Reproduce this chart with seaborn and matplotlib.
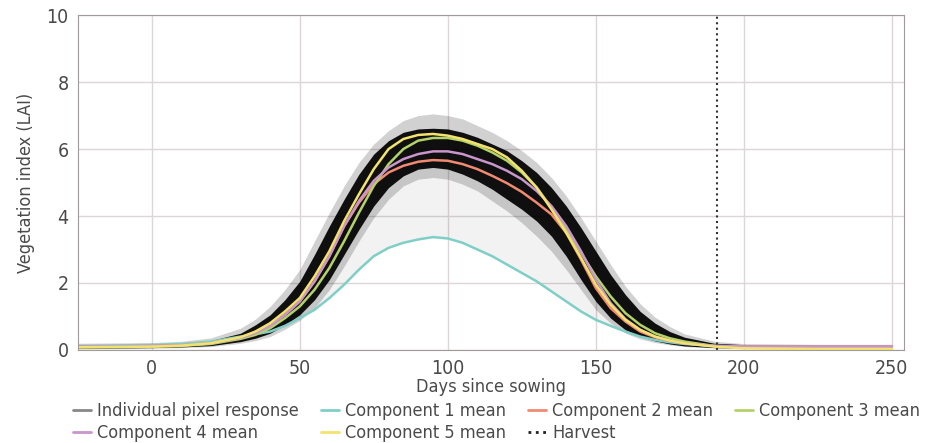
import numpy as np
import pandas as pd
import seaborn as sns
import matplotlib.pyplot as plt
from matplotlib.lines import Line2D

# days since sowing (shared x grid for all read-off curves)
days = [-25, 0, 10, 20, 30, 35, 40, 45, 50, 55, 60, 65, 70, 75, 80, 85, 90, 95,
        100, 105, 110, 115, 120, 125, 130, 135, 140, 145, 150, 155, 160, 165,
        170, 175, 180, 190, 200, 225, 250]

comp1 = [0.12, 0.15, 0.18, 0.25, 0.4, 0.47, 0.55, 0.72, 0.95, 1.2, 1.55, 1.95, 2.4,
         2.8, 3.05, 3.2, 3.3, 3.37, 3.33, 3.2, 3.0, 2.8, 2.55, 2.3, 2.05, 1.75, 1.45,
         1.15, 0.9, 0.72, 0.55, 0.4, 0.3, 0.23, 0.18, 0.12, 0.1, 0.1, 0.1]
comp2 = [0.1, 0.12, 0.14, 0.2, 0.36, 0.5, 0.72, 1.05, 1.45, 2.05, 2.8, 3.7, 4.4,
         4.95, 5.3, 5.5, 5.62, 5.67, 5.65, 5.55, 5.4, 5.2, 4.98, 4.72, 4.4, 4.05, 3.5,
         2.7, 1.85, 1.25, 0.85, 0.55, 0.38, 0.27, 0.2, 0.12, 0.1, 0.1, 0.1]
comp3 = [0.08, 0.1, 0.12, 0.18, 0.33, 0.45, 0.65, 0.95, 1.3, 1.8, 2.45, 3.25, 4.1,
         4.9, 5.55, 6.0, 6.25, 6.33, 6.33, 6.25, 6.1, 5.9, 5.65, 5.3, 4.85, 4.25, 3.6,
         2.9, 2.2, 1.6, 1.1, 0.75, 0.5, 0.35, 0.25, 0.12, 0.07, 0.05, 0.05]
comp4 = [0.1, 0.12, 0.14, 0.2, 0.36, 0.5, 0.72, 1.05, 1.45, 2.05, 2.8, 3.7, 4.45,
         5.05, 5.45, 5.7, 5.85, 5.93, 5.93, 5.85, 5.7, 5.55, 5.35, 5.1, 4.75, 4.3, 3.7,
         2.95, 2.1, 1.4, 0.92, 0.6, 0.4, 0.28, 0.2, 0.12, 0.1, 0.1, 0.1]
comp5 = [0.08, 0.1, 0.13, 0.2, 0.38, 0.55, 0.8, 1.15, 1.55, 2.2, 2.95, 3.85, 4.65,
         5.4, 6.0, 6.3, 6.42, 6.45, 6.4, 6.3, 6.15, 6.0, 5.75, 5.35, 4.85, 4.2, 3.5,
         2.75, 1.95, 1.35, 0.9, 0.6, 0.4, 0.28, 0.2, 0.1, 0.05, 0.03, 0.03]

# envelopes of the individual pixel responses (dense core and faint fringe)
core_hi = [0.15, 0.18, 0.2, 0.28, 0.5, 0.75, 1.05, 1.5, 2.05, 2.85, 3.7, 4.5, 5.25,
           5.85, 6.25, 6.5, 6.6, 6.62, 6.6, 6.5, 6.35, 6.15, 5.95, 5.65, 5.3, 4.85,
           4.3, 3.65, 2.95, 2.25, 1.65, 1.15, 0.8, 0.55, 0.38, 0.2, 0.16, 0.15, 0.15]
core_lo = [0.05, 0.07, 0.09, 0.13, 0.25, 0.35, 0.5, 0.75, 1.05, 1.5, 2.1, 2.85, 3.6,
           4.3, 4.85, 5.2, 5.4, 5.45, 5.4, 5.25, 5.05, 4.8, 4.5, 4.2, 3.85, 3.4, 2.8,
           2.1, 1.45, 0.95, 0.6, 0.4, 0.27, 0.18, 0.12, 0.07, 0.05, 0.05, 0.05]
fringe_hi = [0.2, 0.22, 0.26, 0.36, 0.65, 0.92, 1.3, 1.8, 2.4, 3.25, 4.1, 4.9, 5.6,
             6.15, 6.55, 6.85, 7.0, 7.05, 7.0, 6.9, 6.7, 6.5, 6.25, 5.95, 5.6, 5.15,
             4.6, 3.95, 3.25, 2.55, 1.9, 1.38, 0.98, 0.7, 0.48, 0.26, 0.19, 0.17, 0.17]
fringe_lo = [0.03, 0.05, 0.07, 0.1, 0.2, 0.28, 0.4, 0.62, 0.88, 1.25, 1.8, 2.5, 3.25,
             3.95, 4.5, 4.9, 5.1, 5.15, 5.1, 4.95, 4.75, 4.45, 4.15, 3.8, 3.4, 2.95,
             2.4, 1.8, 1.2, 0.8, 0.5, 0.33, 0.22, 0.15, 0.1, 0.06, 0.04, 0.04, 0.04]

harvest_day = 191
names = ['Component 1 mean', 'Component 2 mean', 'Component 3 mean',
         'Component 4 mean', 'Component 5 mean']
colors = ['#7fcfc6', '#f28a72', '#b3d36a', '#c995cb', '#f3e36e']

df = pd.DataFrame({
    'day': days * 5,
    'lai': comp1 + comp2 + comp3 + comp4 + comp5,
    'component': sum([[n] * len(days) for n in names], []),
})

sns.set_style('white')
plt.rcParams['font.family'] = ['DejaVu Sans']
plt.rcParams['font.stretch'] = 'condensed'
txt = '#4a4a4a'

fig, ax = plt.subplots(figsize=(9.25, 4.43), dpi=100)
fig.subplots_adjust(left=0.084, right=0.977, top=0.966, bottom=0.21)

ax.fill_between(days, comp1, core_lo, color='black', alpha=0.05, lw=0)
ax.fill_between(days, fringe_lo, fringe_hi, color='black', alpha=0.18, lw=0)
ax.fill_between(days, core_lo, core_hi, color='black', alpha=0.93, lw=0)

sns.lineplot(data=df, x='day', y='lai', hue='component', palette=colors,
             linewidth=1.8, legend=False, ax=ax)
ax.axvline(harvest_day, color='#333333', ls=':', lw=1.5)

ax.set_xlim(-25, 254)
ax.set_ylim(0, 10)
ax.set_xticks([0, 50, 100, 150, 200, 250])
ax.set_yticks([0, 2, 4, 6, 8, 10])
ax.grid(True, color='#dcd6d6', lw=1)
for s in ax.spines.values():
    s.set_color('#a09a9a')
ax.tick_params(labelsize=14, colors=txt, length=3, color='#a09a9a')
ax.set_xlabel('Days since sowing', fontsize=13, color=txt, labelpad=0)
ax.set_ylabel('Vegetation index (LAI)', fontsize=13, color=txt, labelpad=8)

handles = [Line2D([], [], color='#888888', lw=2)]
handles += [Line2D([], [], color=c, lw=2) for c in colors]
handles += [Line2D([], [], color='#222222', lw=2, ls=':')]
labels = ['Individual pixel response'] + names + ['Harvest']
order = [0, 4, 1, 5, 2, 6, 3]
ax.legend([handles[i] for i in order], [labels[i] for i in order], ncol=4,
          loc='upper center', bbox_to_anchor=(0.507, -0.135), frameon=False,
          fontsize=13, labelcolor=txt, handlelength=1.0, handletextpad=0.35,
          columnspacing=1.2, labelspacing=0.2, borderaxespad=0)

plt.savefig('out.png')
